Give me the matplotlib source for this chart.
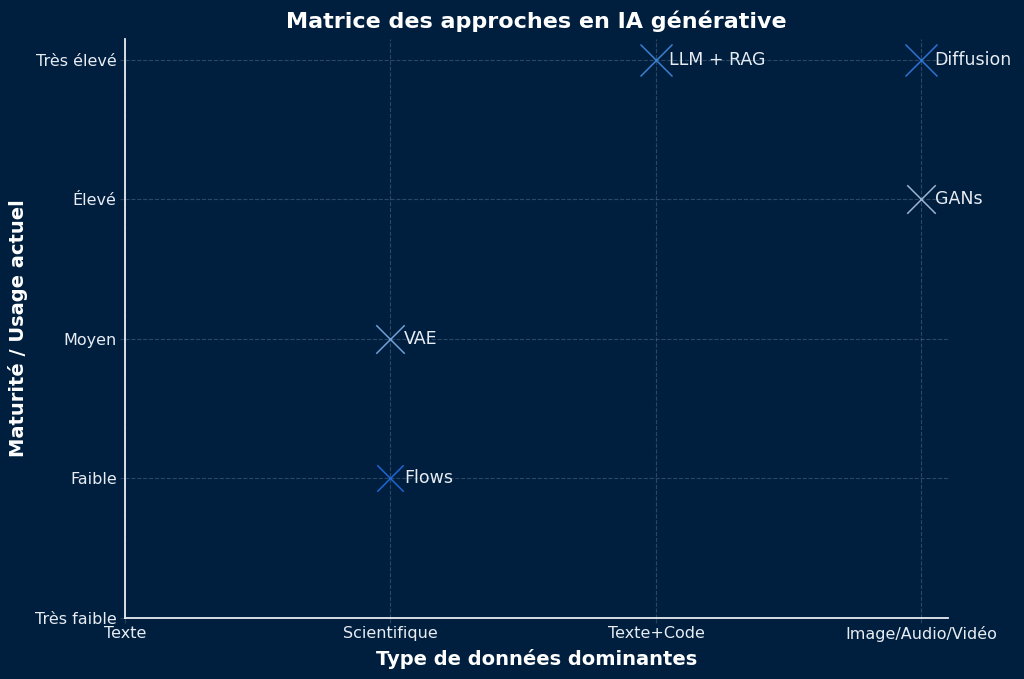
import matplotlib.pyplot as plt

# données
approches = ["LLM + RAG", "Diffusion", "GANs", "VAE", "Flows"]
type_donnees = [2, 3, 3, 1, 1]
maturite = [4, 4, 3, 2, 1]
tailles = [530, 530, 420, 420, 360]
couleurs = ["#3a7fd0", "#2d72d2", "#9ab4d0", "#6f9fd6", "#1f66d4"]

x_labels = ["Texte", "Scientifique", "Texte+Code", "Image/Audio/Vidéo"]
y_labels = ["Très faible", "Faible", "Moyen", "Élevé", "Très élevé"]

bg = "#001f3f"
txt = "#e8edf3"

fig = plt.figure(figsize=(10.24, 6.79), dpi=100, facecolor=bg)
ax = fig.add_axes([125 / 1024, 61 / 679, 823 / 1024, 579 / 679])
ax.set_facecolor(bg)

for i in range(len(approches)):
    ax.scatter(type_donnees[i], maturite[i], s=tailles[i], marker="x",
               color=couleurs[i], linewidths=1.1, zorder=3)
    ax.text(type_donnees[i] + 0.05, maturite[i], approches[i], color=txt,
            fontsize=12.5, va="center", ha="left", zorder=4)

ax.set_xticks(range(len(x_labels)))
ax.set_xticklabels(x_labels)
ax.set_yticks(range(len(y_labels)))
ax.set_yticklabels(y_labels)
ax.set_xlim(0, 3.1)
ax.set_ylim(0, 4.15)

ax.tick_params(colors="#2a3f57", labelcolor=txt, labelsize=11.5, pad=2.5)
ax.grid(True, linestyle="--", color="#4a6280", alpha=0.6, linewidth=0.8)
for s in ["top", "right"]:
    ax.spines[s].set_visible(False)
for s in ["left", "bottom"]:
    ax.spines[s].set_color(txt)
    ax.spines[s].set_linewidth(1.3)

ax.set_title("Matrice des approches en IA générative", color="white",
             fontsize=16, fontweight="bold", pad=8)
ax.set_xlabel("Type de données dominantes", color="white", fontsize=14,
              fontweight="bold", labelpad=5)
ax.set_ylabel("Maturité / Usage actuel", color="white", fontsize=14,
              fontweight="bold", labelpad=5)

fig.savefig("out.png", dpi=100, facecolor=bg)
